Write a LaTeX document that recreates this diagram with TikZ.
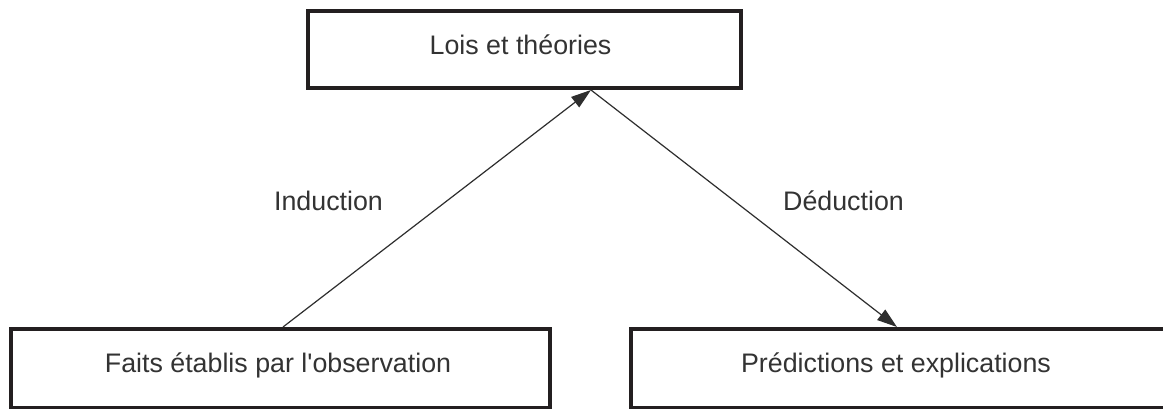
\documentclass[tikz,border=0pt]{standalone}
\usepackage{fontspec}
\setmainfont{Liberation Sans}[Ligatures=TeXOff]
\usetikzlibrary{arrows.meta}
\definecolor{boxc}{HTML}{231F20}
\definecolor{txtc}{HTML}{333333}
\tikzset{
  box/.style={draw=boxc, line width=4pt, rectangle, inner sep=0pt, anchor=north west},
  lbl/.style={text=txtc, font=\fontsize{26.8}{30}\selectfont, anchor=base, inner sep=0pt},
  conn/.style={draw=txtc!90!black, line width=1.2pt, -{Triangle[length=20pt,width=13pt]}}
}
\begin{document}
\begin{tikzpicture}[x=1pt,y=1pt]
\useasboundingbox (0,0) rectangle (1163,-408);
\fill[white] (0,0) rectangle (1163,-408);
% boxes
\node[box, minimum width=433pt, minimum height=77pt] (lt) at (305.5,-9) {};
\node[box, minimum width=539pt, minimum height=79pt] (fo) at (9,-327) {};
\node[box, minimum width=580pt, minimum height=79pt] (pe) at (629,-327) {};
% texts
\node[lbl] (tlt) at (520.5,-54) {Lois et théories};
\node[lbl] (tfo) at (278,-372) {Faits établis par l'observation};
\node[lbl] (tpe) at (896,-372) {Prédictions et explications};
\node[lbl] (tin) at (328.5,-210) {Induction};
\node[lbl] (tde) at (843.5,-210) {Déduction};
% connectors
\draw[conn] ([xshift=2.5pt]fo.north) -- ([xshift=67pt]lt.south);
\draw[conn] ([xshift=67pt]lt.south) -- ([xshift=-24pt]pe.north);
\end{tikzpicture}
\end{document}
